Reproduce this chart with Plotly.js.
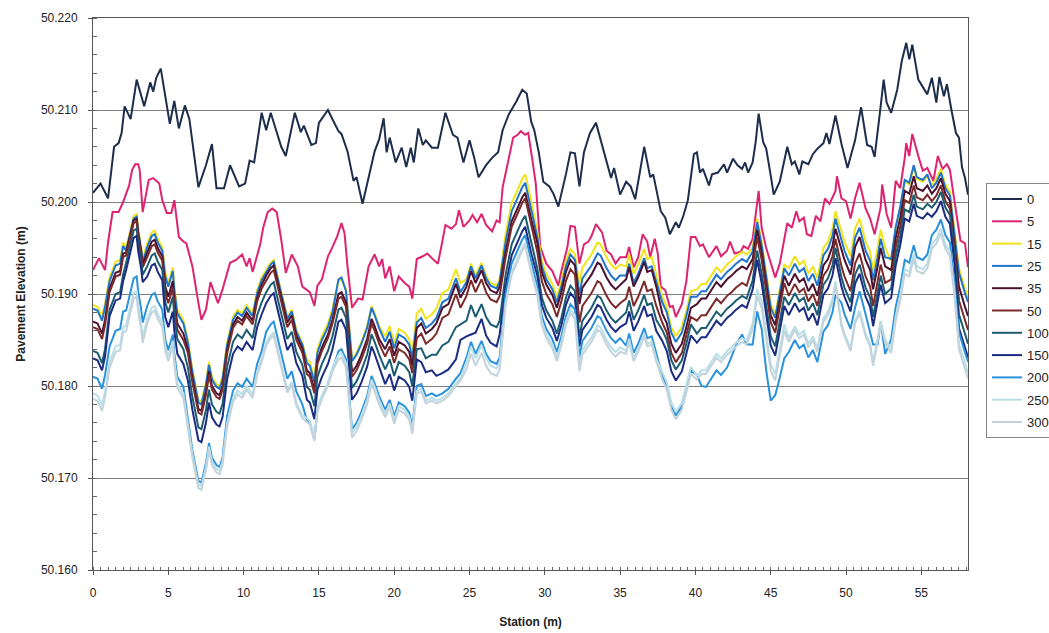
<!DOCTYPE html>
<html>
<head>
<meta charset="utf-8">
<script src="https://cdn.plot.ly/plotly-3.0.1.min.js"></script>
<style>
html,body{margin:0;padding:0;background:#fff;}
#chart{width:1049px;height:633px;}
</style>
</head>
<body>
<div id="chart"></div>
<script>
// Series "0"
const station0 = [0.0,0.5,1.0,1.4,1.7,1.9,2.1,2.5,2.9,3.4,3.8,4.0,4.2,4.5,4.8,5.1,5.4,5.7,6.1,6.4,7.0,7.5,7.9,8.2,8.7,9.1,9.7,10.1,10.4,10.7,11.2,11.5,11.8,12.1,12.5,12.8,13.4,13.8,14.0,14.5,14.8,15.0,15.6,15.9,16.3,16.5,16.9,17.3,17.5,17.9,18.3,18.7,19.0,19.3,19.5,19.7,20.1,20.5,20.8,21.1,21.3,21.6,21.9,22.1,22.5,22.9,23.4,23.9,24.2,24.6,25.0,25.3,25.6,26.1,26.5,26.9,27.2,27.6,28.1,28.5,28.8,29.1,29.3,29.6,29.9,30.3,30.6,30.9,31.4,31.7,32.0,32.3,32.6,33.0,33.4,33.8,34.4,34.6,35.0,35.4,35.7,36.0,36.6,37.0,37.2,37.7,38.0,38.3,38.7,38.9,39.2,39.5,39.9,40.1,40.3,40.5,40.9,41.1,41.5,41.9,42.1,42.5,42.8,43.1,43.3,43.5,43.8,44.0,44.2,44.5,44.7,45.0,45.2,45.6,46.1,46.4,46.6,46.9,47.1,47.5,47.8,48.1,48.5,48.7,48.9,49.3,49.7,50.1,50.6,51.0,51.4,51.7,51.9,52.3,52.5,52.7,53.0,53.4,53.7,54.0,54.2,54.4,54.8,55.4,55.7,56.0,56.2,56.5,56.7,57.0,57.3,57.5,57.7,57.9,58.1];
const elev0 = [50.2010,50.2020,50.2004,50.2060,50.2064,50.2075,50.2104,50.2090,50.2133,50.2104,50.2130,50.2120,50.2135,50.2145,50.2115,50.2085,50.2110,50.2080,50.2105,50.2090,50.2016,50.2040,50.2063,50.2015,50.2015,50.2040,50.2017,50.2020,50.2045,50.2043,50.2097,50.2078,50.2097,50.2080,50.2060,50.2050,50.2097,50.2076,50.2083,50.2062,50.2064,50.2086,50.2100,50.2090,50.2077,50.2074,50.2055,50.2023,50.2027,50.1998,50.2025,50.2055,50.2068,50.2091,50.2054,50.2070,50.2043,50.2059,50.2038,50.2059,50.2043,50.2080,50.2062,50.2067,50.2059,50.2059,50.2097,50.2073,50.2070,50.2043,50.2067,50.2049,50.2027,50.2040,50.2048,50.2054,50.2078,50.2095,50.2109,50.2122,50.2118,50.2087,50.2078,50.2054,50.2022,50.2017,50.2008,50.1995,50.2030,50.2054,50.2053,50.2017,50.2054,50.2075,50.2086,50.2062,50.2026,50.2037,50.2008,50.2022,50.2017,50.2003,50.2060,50.2027,50.2030,50.1990,50.1983,50.1965,50.1978,50.1972,50.1985,50.2002,50.2052,50.2054,50.2032,50.2036,50.2018,50.2030,50.2032,50.2041,50.2032,50.2047,50.2040,50.2036,50.2043,50.2032,50.2043,50.2065,50.2096,50.2065,50.2058,50.2029,50.2008,50.2022,50.2060,50.2041,50.2044,50.2030,50.2044,50.2041,50.2052,50.2058,50.2064,50.2075,50.2063,50.2094,50.2063,50.2037,50.2067,50.2103,50.2062,50.2060,50.2049,50.2104,50.2133,50.2108,50.2097,50.2122,50.2153,50.2173,50.2155,50.2171,50.2133,50.2117,50.2135,50.2108,50.2136,50.2115,50.2128,50.2100,50.2075,50.2070,50.2038,50.2026,50.2008];

// Series "5"
const station5 = [0.0,0.4,0.8,1.0,1.3,1.7,2.0,2.2,2.4,2.6,2.8,3.0,3.1,3.3,3.7,4.0,4.4,4.6,4.9,5.2,5.4,5.7,6.0,6.2,6.6,7.0,7.2,7.5,7.8,8.1,8.3,8.6,9.1,9.5,9.9,10.2,10.4,10.6,11.1,11.3,11.6,11.9,12.2,12.5,12.8,13.2,13.6,13.9,14.4,14.7,14.9,15.2,15.6,15.9,16.2,16.5,16.7,16.9,17.2,17.6,17.9,18.3,18.7,19.0,19.2,19.4,19.7,20.0,20.3,20.7,21.0,21.2,21.5,21.9,22.2,22.5,22.9,23.1,23.4,23.8,24.1,24.3,24.6,25.0,25.2,25.5,25.8,26.1,26.5,26.8,27.0,27.2,27.5,27.9,28.2,28.4,28.7,28.9,29.2,29.4,29.7,30.1,30.5,30.9,31.1,31.5,31.7,32.0,32.3,32.6,32.9,33.1,33.4,33.8,34.1,34.4,34.7,35.0,35.4,35.6,35.9,36.2,36.5,36.8,37.0,37.3,37.5,37.7,38.0,38.3,38.5,38.7,39.1,39.4,39.7,40.0,40.3,40.5,40.9,41.2,41.4,41.7,42.1,42.3,42.6,43.0,43.2,43.5,43.8,44.2,44.4,44.7,45.0,45.3,45.6,45.9,46.1,46.4,46.7,46.9,47.2,47.4,47.7,48.0,48.3,48.6,48.9,49.3,49.4,49.7,50.0,50.3,50.6,50.9,51.3,51.6,51.9,52.3,52.4,52.7,53.0,53.3,53.6,53.9,54.0,54.2,54.4,54.8,55.1,55.4,55.8,56.1,56.4,56.7,56.9,57.1,57.3,57.6,57.9,58.1];
const elev5 = [50.1926,50.1939,50.1926,50.1956,50.1989,50.1989,50.2000,50.2008,50.2018,50.2035,50.2041,50.2041,50.2035,50.1989,50.2024,50.2026,50.2020,50.2002,50.1988,50.1988,50.2002,50.1962,50.1957,50.1955,50.1930,50.1890,50.1872,50.1883,50.1913,50.1899,50.1890,50.1905,50.1934,50.1937,50.1943,50.1930,50.1939,50.1924,50.1954,50.1972,50.1989,50.1993,50.1989,50.1959,50.1923,50.1943,50.1930,50.1908,50.1902,50.1887,50.1909,50.1916,50.1941,50.1951,50.1962,50.1977,50.1966,50.1930,50.1885,50.1895,50.1894,50.1930,50.1943,50.1930,50.1938,50.1917,50.1930,50.1903,50.1919,50.1912,50.1908,50.1895,50.1938,50.1941,50.1944,50.1939,50.1933,50.1949,50.1975,50.1971,50.1976,50.1991,50.1973,50.1980,50.1986,50.1978,50.1987,50.1975,50.1968,50.1980,50.1978,50.2016,50.2040,50.2070,50.2073,50.2077,50.2073,50.2075,50.2043,50.2020,50.1951,50.1933,50.1925,50.1909,50.1925,50.1951,50.1974,50.1973,50.1933,50.1954,50.1957,50.1963,50.1976,50.1967,50.1947,50.1943,50.1933,50.1940,50.1940,50.1951,50.1929,50.1940,50.1965,50.1957,50.1940,50.1960,50.1944,50.1908,50.1904,50.1886,50.1887,50.1875,50.1889,50.1914,50.1962,50.1962,50.1952,50.1954,50.1940,50.1947,50.1952,50.1941,50.1947,50.1957,50.1944,50.1946,50.1952,50.1949,50.1960,50.2012,50.1972,50.1950,50.1933,50.1918,50.1933,50.1961,50.1977,50.1972,50.1990,50.1979,50.1983,50.1965,50.1963,50.1985,50.1979,50.2004,50.1998,50.2012,50.2028,50.2004,50.2001,50.1982,50.2004,50.2021,50.1993,50.1982,50.1965,50.1994,50.2019,50.1987,50.1972,50.2023,50.2015,50.2048,50.2064,50.2050,50.2074,50.2050,50.2034,50.2037,50.2023,50.2050,50.2036,50.2041,50.2035,50.2012,50.1990,50.1958,50.1955,50.1929];

// Series 15 ... 300 share one station list
const station = [0,0.3,0.6,0.8,1.1,1.5,1.8,2.0,2.2,2.5,2.7,2.9,3.0,3.2,3.3,3.6,3.9,4.1,4.3,4.6,4.8,5.0,5.3,5.4,5.6,6.0,6.3,6.6,7.0,7.2,7.5,7.7,7.9,8.2,8.4,8.6,8.9,9.3,9.6,9.9,10.2,10.6,10.9,11.2,11.5,11.8,12.0,12.2,12.6,12.9,13.2,13.5,13.9,14.2,14.4,14.7,14.9,15.2,15.6,15.9,16.3,16.5,16.8,17.0,17.2,17.5,17.8,18.2,18.5,18.7,19.0,19.4,19.7,20.0,20.3,20.7,21.0,21.2,21.5,21.8,22.1,22.5,22.8,23.2,23.6,24.1,24.4,24.8,25.1,25.4,25.8,26.1,26.4,26.8,27.0,27.4,27.8,28.1,28.5,28.7,29.1,29.5,29.8,30.1,30.5,30.8,31.1,31.4,31.7,32.0,32.3,32.5,32.8,33.1,33.5,33.7,34.1,34.4,34.7,35.0,35.4,35.6,35.9,36.2,36.6,36.8,37.1,37.4,37.8,38.1,38.4,38.7,39.1,39.4,39.7,40.1,40.4,40.7,41.1,41.4,41.7,42.1,42.4,42.7,43.1,43.4,43.8,44.1,44.4,44.7,45.0,45.3,45.6,45.9,46.2,46.6,46.9,47.2,47.5,47.8,48.1,48.5,48.8,49.1,49.3,49.7,49.9,50.3,50.6,50.9,51.3,51.6,51.8,52.1,52.3,52.6,53.0,53.3,53.6,53.9,54.2,54.5,54.7,55.1,55.4,55.7,56.0,56.3,56.6,56.9,57.2,57.5,57.9,58.1];

const elev15 = [50.1888,50.1886,50.1875,50.1890,
50.1918,50.1935,50.1937,50.1956,
50.1950,50.1971,50.1985,50.1987,50.1971,50.1951,50.1937,
50.1955,50.1967,50.1969,50.1960,50.1951,
50.1923,50.1912,50.1929,50.1908,50.1883,50.1872,
50.1850,50.1818,50.1785,50.1783,50.1804,50.1826,50.1810,50.1802,50.1800,50.1810,
50.1847,50.1875,50.1883,50.1879,50.1888,50.1879,50.1904,50.1918,
50.1926,50.1934,50.1937,50.1923,50.1897,50.1875,50.1883,50.1861,50.1847,
50.1829,50.1826,50.1808,50.1840,50.1854,50.1868,50.1884,
50.1914,50.1916,50.1905,50.1868,50.1829,50.1836,50.1847,50.1865,50.1887,50.1879,50.1865,
50.1854,50.1865,50.1847,50.1862,50.1858,50.1851,50.1836,
50.1879,50.1884,50.1873,50.1878,50.1884,50.1901,50.1905,50.1927,50.1912,
50.1916,50.1933,50.1920,50.1934,50.1920,50.1912,50.1909,50.1916,
50.1966,50.1999,50.2010,50.2025,50.2030,50.2001,
50.1968,50.1936,50.1922,50.1911,50.1897,50.1914,50.1936,50.1949,50.1943,
50.1911,50.1929,50.1936,50.1943,50.1956,50.1954,50.1940,50.1932,50.1927,50.1932,
50.1930,50.1943,50.1922,50.1932,50.1949,50.1938,50.1940,50.1922,
50.1897,50.1886,50.1864,50.1854,50.1864,50.1882,50.1903,
50.1905,50.1911,50.1911,50.1922,50.1929,50.1924,50.1932,50.1936,50.1941,50.1946,50.1943,
50.1950,50.1982,50.1957,50.1922,50.1889,50.1878,50.1903,50.1932,
50.1928,50.1941,50.1932,50.1936,50.1922,50.1930,50.1917,50.1950,50.1957,50.1971,50.1990,
50.1968,50.1957,50.1941,50.1971,50.1982,50.1957,50.1946,50.1925,50.1950,50.1970,50.1950,
50.1936,50.1971,50.1993,50.2022,50.2019,50.2038,50.2025,50.2022,50.2028,
50.2019,50.2025,50.2036,50.2019,50.2011,50.1968,
50.1928,50.1906,50.1896];

const elev25 = [50.1884,50.1882,50.1871,50.1886,
50.1914,50.1931,50.1933,50.1952,
50.1947,50.1968,50.1982,50.1984,50.1968,50.1948,50.1934,
50.1951,50.1963,50.1965,50.1956,50.1947,
50.1919,50.1908,50.1925,50.1904,50.1879,50.1868,
50.1847,50.1815,50.1782,50.1780,50.1801,50.1823,50.1807,50.1799,50.1797,50.1807,
50.1844,50.1872,50.1880,50.1876,50.1885,50.1876,50.1901,50.1915,
50.1924,50.1932,50.1935,50.1921,50.1895,50.1873,50.1881,50.1859,50.1845,
50.1825,50.1822,50.1804,50.1836,50.1850,50.1864,50.1880,
50.1916,50.1918,50.1903,50.1866,50.1827,50.1834,50.1845,50.1863,50.1885,50.1877,50.1863,
50.1848,50.1859,50.1841,50.1856,50.1852,50.1845,50.1830,
50.1869,50.1874,50.1863,50.1868,50.1874,50.1891,50.1895,50.1917,50.1902,
50.1913,50.1930,50.1917,50.1931,50.1917,50.1909,50.1906,50.1913,
50.1957,50.1990,50.2001,50.2016,50.2021,50.1992,
50.1962,50.1930,50.1916,50.1905,50.1891,50.1908,50.1930,50.1943,50.1937,
50.1899,50.1917,50.1924,50.1931,50.1944,50.1942,50.1928,50.1920,50.1915,50.1920,
50.1920,50.1933,50.1912,50.1922,50.1939,50.1928,50.1930,50.1912,
50.1891,50.1880,50.1858,50.1848,50.1858,50.1876,50.1897,
50.1897,50.1903,50.1903,50.1914,50.1921,50.1916,50.1924,50.1928,50.1933,50.1938,50.1935,
50.1946,50.1978,50.1953,50.1918,50.1885,50.1874,50.1899,50.1928,
50.1920,50.1933,50.1924,50.1928,50.1914,50.1922,50.1909,50.1942,50.1949,50.1963,50.1982,
50.1958,50.1947,50.1931,50.1961,50.1972,50.1947,50.1936,50.1915,50.1940,50.1960,50.1940,
50.1938,50.1973,50.1995,50.2024,50.2021,50.2040,50.2027,50.2024,50.2030,
50.2015,50.2021,50.2032,50.2015,50.2007,50.1964,
50.1923,50.1901,50.1891];

const elev35 = [50.1870,50.1868,50.1857,50.1872,
50.1906,50.1923,50.1925,50.1944,
50.1945,50.1966,50.1980,50.1982,50.1966,50.1946,50.1932,
50.1945,50.1957,50.1959,50.1950,50.1941,
50.1908,50.1897,50.1914,50.1893,50.1868,50.1857,
50.1840,50.1808,50.1775,50.1773,50.1794,50.1816,50.1800,50.1792,50.1790,50.1800,
50.1839,50.1867,50.1875,50.1871,50.1880,50.1871,50.1896,50.1910,
50.1920,50.1928,50.1931,50.1917,50.1891,50.1869,50.1877,50.1855,50.1841,
50.1817,50.1814,50.1796,50.1828,50.1842,50.1856,50.1872,
50.1900,50.1902,50.1891,50.1854,50.1815,50.1822,50.1833,50.1851,50.1873,50.1865,50.1851,
50.1840,50.1851,50.1833,50.1848,50.1844,50.1837,50.1822,
50.1863,50.1868,50.1857,50.1862,50.1868,50.1885,50.1889,50.1911,50.1896,
50.1908,50.1925,50.1912,50.1926,50.1912,50.1904,50.1901,50.1908,
50.1946,50.1979,50.1990,50.2005,50.2010,50.1981,
50.1956,50.1924,50.1910,50.1899,50.1885,50.1902,50.1924,50.1937,50.1931,
50.1889,50.1907,50.1914,50.1921,50.1934,50.1932,50.1918,50.1910,50.1905,50.1910,
50.1916,50.1929,50.1908,50.1918,50.1935,50.1924,50.1926,50.1908,
50.1879,50.1868,50.1846,50.1836,50.1846,50.1864,50.1885,
50.1889,50.1895,50.1895,50.1906,50.1913,50.1908,50.1916,50.1920,50.1925,50.1930,50.1927,
50.1938,50.1970,50.1945,50.1910,50.1877,50.1866,50.1891,50.1920,
50.1909,50.1922,50.1913,50.1917,50.1903,50.1911,50.1898,50.1931,50.1938,50.1952,50.1971,
50.1948,50.1937,50.1921,50.1951,50.1962,50.1937,50.1926,50.1905,50.1930,50.1950,50.1930,
50.1926,50.1961,50.1983,50.2012,50.2009,50.2028,50.2015,50.2012,50.2018,
50.2009,50.2015,50.2026,50.2009,50.2001,50.1958,
50.1908,50.1886,50.1876];

const elev50 = [50.1864,50.1862,50.1851,50.1866,
50.1902,50.1919,50.1921,50.1940,
50.1942,50.1963,50.1977,50.1979,50.1963,50.1943,50.1929,
50.1940,50.1952,50.1954,50.1945,50.1936,
50.1901,50.1890,50.1907,50.1886,50.1861,50.1850,
50.1836,50.1804,50.1771,50.1769,50.1790,50.1812,50.1796,50.1788,50.1786,50.1796,
50.1835,50.1863,50.1871,50.1867,50.1876,50.1867,50.1892,50.1906,
50.1915,50.1923,50.1926,50.1912,50.1886,50.1864,50.1872,50.1850,50.1836,
50.1813,50.1810,50.1792,50.1824,50.1838,50.1852,50.1868,
50.1895,50.1897,50.1886,50.1849,50.1810,50.1817,50.1828,50.1846,50.1868,50.1860,50.1846,
50.1832,50.1843,50.1825,50.1840,50.1836,50.1829,50.1814,
50.1852,50.1857,50.1846,50.1851,50.1857,50.1874,50.1878,50.1900,50.1885,
50.1898,50.1915,50.1902,50.1916,50.1902,50.1894,50.1891,50.1898,
50.1940,50.1973,50.1984,50.1999,50.2004,50.1975,
50.1946,50.1914,50.1900,50.1889,50.1875,50.1892,50.1914,50.1927,50.1921,
50.1869,50.1887,50.1894,50.1901,50.1914,50.1912,50.1898,50.1890,50.1885,50.1890,
50.1895,50.1908,50.1887,50.1897,50.1914,50.1903,50.1905,50.1887,
50.1869,50.1858,50.1836,50.1826,50.1836,50.1854,50.1875,
50.1871,50.1877,50.1877,50.1888,50.1895,50.1890,50.1898,50.1902,50.1907,50.1912,50.1909,
50.1930,50.1962,50.1937,50.1902,50.1869,50.1858,50.1883,50.1912,
50.1898,50.1911,50.1902,50.1906,50.1892,50.1900,50.1887,50.1920,50.1927,50.1941,50.1960,
50.1930,50.1919,50.1903,50.1933,50.1944,50.1919,50.1908,50.1887,50.1912,50.1932,50.1912,
50.1916,50.1951,50.1973,50.2002,50.1999,50.2018,50.2005,50.2002,50.2008,
50.2001,50.2007,50.2018,50.2001,50.1993,50.1950,
50.1893,50.1871,50.1861];

const elev100 = [50.1838,50.1836,50.1825,50.1840,
50.1883,50.1900,50.1902,50.1921,
50.1934,50.1955,50.1969,50.1971,50.1955,50.1935,50.1921,
50.1930,50.1942,50.1944,50.1935,50.1926,
50.1891,50.1880,50.1897,50.1876,50.1851,50.1840,
50.1820,50.1788,50.1755,50.1753,50.1774,50.1796,50.1780,50.1772,50.1770,50.1780,
50.1820,50.1848,50.1856,50.1852,50.1861,50.1852,50.1877,50.1891,
50.1902,50.1910,50.1913,50.1899,50.1873,50.1851,50.1859,50.1837,50.1823,
50.1799,50.1796,50.1778,50.1810,50.1824,50.1838,50.1854,
50.1883,50.1885,50.1874,50.1837,50.1798,50.1805,50.1816,50.1834,50.1856,50.1848,50.1834,
50.1818,50.1829,50.1811,50.1826,50.1822,50.1815,50.1800,
50.1840,50.1841,50.1830,50.1834,50.1834,50.1844,50.1848,50.1864,50.1867,
50.1871,50.1888,50.1875,50.1889,50.1875,50.1867,50.1864,50.1871,
50.1921,50.1954,50.1965,50.1980,50.1985,50.1956,
50.1928,50.1896,50.1882,50.1871,50.1857,50.1874,50.1896,50.1909,50.1903,
50.1853,50.1871,50.1878,50.1885,50.1898,50.1896,50.1882,50.1874,50.1869,50.1874,
50.1880,50.1893,50.1872,50.1882,50.1899,50.1888,50.1890,50.1872,
50.1861,50.1850,50.1828,50.1818,50.1828,50.1846,50.1867,
50.1857,50.1863,50.1863,50.1874,50.1881,50.1876,50.1884,50.1888,50.1893,50.1898,50.1895,
50.1915,50.1947,50.1922,50.1887,50.1854,50.1843,50.1868,50.1897,
50.1888,50.1901,50.1892,50.1896,50.1882,50.1890,50.1877,50.1910,50.1917,50.1931,50.1950,
50.1918,50.1907,50.1891,50.1921,50.1932,50.1907,50.1896,50.1875,50.1900,50.1920,50.1900,
50.1906,50.1941,50.1963,50.1992,50.1989,50.2008,50.1995,50.1992,50.1998,
50.1994,50.2000,50.2011,50.1994,50.1986,50.1943,
50.1878,50.1856,50.1846];

const elev150 = [50.1830,50.1828,50.1817,50.1832,
50.1876,50.1893,50.1895,50.1914,
50.1926,50.1947,50.1961,50.1963,50.1947,50.1927,50.1913,
50.1919,50.1931,50.1933,50.1924,50.1915,
50.1875,50.1864,50.1881,50.1860,50.1835,50.1824,
50.1806,50.1774,50.1741,50.1739,50.1760,50.1782,50.1766,50.1758,50.1756,50.1766,
50.1807,50.1835,50.1843,50.1839,50.1848,50.1839,50.1864,50.1878,
50.1890,50.1898,50.1901,50.1887,50.1861,50.1839,50.1847,50.1825,50.1811,
50.1785,50.1782,50.1764,50.1796,50.1810,50.1824,50.1840,
50.1870,50.1872,50.1861,50.1824,50.1785,50.1792,50.1803,50.1821,50.1843,50.1835,50.1821,
50.1802,50.1813,50.1795,50.1810,50.1806,50.1799,50.1784,
50.1829,50.1826,50.1815,50.1817,50.1811,50.1814,50.1818,50.1829,50.1850,
50.1854,50.1856,50.1858,50.1873,50.1855,50.1847,50.1843,50.1856,
50.1909,50.1942,50.1953,50.1968,50.1973,50.1944,
50.1920,50.1888,50.1874,50.1863,50.1849,50.1866,50.1888,50.1901,50.1895,
50.1843,50.1861,50.1868,50.1875,50.1888,50.1886,50.1872,50.1864,50.1859,50.1864,
50.1868,50.1881,50.1860,50.1870,50.1887,50.1876,50.1878,50.1860,
50.1849,50.1838,50.1816,50.1806,50.1816,50.1834,50.1855,
50.1847,50.1853,50.1853,50.1864,50.1871,50.1866,50.1874,50.1878,50.1883,50.1888,50.1885,
50.1905,50.1937,50.1912,50.1877,50.1844,50.1833,50.1858,50.1887,
50.1877,50.1890,50.1881,50.1885,50.1871,50.1879,50.1866,50.1899,50.1906,50.1920,50.1939,
50.1908,50.1897,50.1881,50.1911,50.1922,50.1897,50.1886,50.1865,50.1890,50.1910,50.1890,
50.1896,50.1931,50.1953,50.1982,50.1979,50.1998,50.1985,50.1982,50.1988,
50.1984,50.1990,50.2001,50.1984,50.1976,50.1933,
50.1863,50.1841,50.1831];

const elev200 = [50.1810,50.1808,50.1797,50.1812,
50.1843,50.1860,50.1862,50.1881,
50.1882,50.1903,50.1917,50.1919,50.1903,50.1883,50.1869,
50.1887,50.1899,50.1901,50.1892,50.1883,
50.1850,50.1839,50.1856,50.1835,50.1810,50.1799,
50.1762,50.1730,50.1697,50.1695,50.1716,50.1738,50.1722,50.1714,50.1712,50.1722,
50.1767,50.1795,50.1803,50.1799,50.1808,50.1799,50.1824,50.1838,
50.1859,50.1867,50.1870,50.1856,50.1830,50.1808,50.1816,50.1794,50.1780,
50.1763,50.1760,50.1742,50.1774,50.1788,50.1802,50.1818,
50.1838,50.1840,50.1829,50.1792,50.1753,50.1760,50.1771,50.1789,50.1811,50.1803,50.1789,
50.1774,50.1785,50.1767,50.1782,50.1778,50.1771,50.1756,
50.1800,50.1802,50.1789,50.1792,50.1789,50.1792,50.1797,50.1808,50.1814,
50.1831,50.1848,50.1835,50.1849,50.1835,50.1827,50.1824,50.1831,
50.1900,50.1933,50.1944,50.1959,50.1964,50.1935,
50.1908,50.1876,50.1862,50.1851,50.1837,50.1854,50.1876,50.1889,50.1883,
50.1831,50.1849,50.1856,50.1863,50.1876,50.1874,50.1860,50.1852,50.1847,50.1852,
50.1844,50.1857,50.1836,50.1846,50.1863,50.1852,50.1854,50.1836,
50.1811,50.1800,50.1778,50.1768,50.1778,50.1796,50.1817,
50.1812,50.1800,50.1799,50.1810,50.1817,50.1812,50.1820,50.1832,50.1845,50.1856,50.1845,
50.1845,50.1881,50.1862,50.1817,50.1784,50.1790,50.1809,50.1830,
50.1837,50.1850,50.1841,50.1845,50.1831,50.1839,50.1826,50.1859,50.1866,50.1880,50.1899,
50.1890,50.1878,50.1862,50.1885,50.1903,50.1878,50.1860,50.1845,50.1845,50.1870,50.1835,
50.1851,50.1886,50.1908,50.1937,50.1934,50.1953,50.1940,50.1937,50.1943,
50.1964,50.1970,50.1981,50.1964,50.1956,50.1913,
50.1858,50.1836,50.1826];

const elev250 = [50.1792,50.1790,50.1779,50.1794,
50.1826,50.1843,50.1845,50.1864,
50.1866,50.1887,50.1901,50.1903,50.1887,50.1867,50.1853,
50.1873,50.1885,50.1887,50.1878,50.1869,
50.1843,50.1832,50.1849,50.1828,50.1803,50.1792,
50.1758,50.1726,50.1693,50.1691,50.1712,50.1734,50.1718,50.1710,50.1708,50.1718,
50.1759,50.1787,50.1795,50.1791,50.1800,50.1791,50.1816,50.1830,
50.1847,50.1855,50.1858,50.1844,50.1818,50.1796,50.1804,50.1782,50.1768,
50.1765,50.1762,50.1744,50.1776,50.1790,50.1804,50.1820,
50.1834,50.1836,50.1825,50.1788,50.1749,50.1756,50.1767,50.1785,50.1807,50.1799,50.1785,
50.1770,50.1781,50.1763,50.1778,50.1774,50.1767,50.1752,
50.1795,50.1797,50.1784,50.1787,50.1784,50.1787,50.1792,50.1803,50.1809,
50.1826,50.1843,50.1830,50.1844,50.1830,50.1822,50.1819,50.1826,
50.1891,50.1924,50.1935,50.1950,50.1955,50.1926,
50.1902,50.1870,50.1856,50.1845,50.1831,50.1848,50.1870,50.1883,50.1877,
50.1821,50.1839,50.1846,50.1853,50.1866,50.1864,50.1850,50.1842,50.1837,50.1842,
50.1838,50.1851,50.1830,50.1840,50.1857,50.1846,50.1848,50.1830,
50.1815,50.1804,50.1782,50.1772,50.1782,50.1800,50.1821,
50.1811,50.1817,50.1817,50.1828,50.1835,50.1830,50.1838,50.1842,50.1847,50.1852,50.1849,
50.1868,50.1905,50.1892,50.1857,50.1824,50.1813,50.1838,50.1867,
50.1852,50.1865,50.1856,50.1860,50.1846,50.1854,50.1841,50.1874,50.1881,50.1895,50.1914,
50.1868,50.1857,50.1841,50.1871,50.1882,50.1857,50.1846,50.1825,50.1850,50.1870,50.1850,
50.1841,50.1876,50.1898,50.1927,50.1924,50.1943,50.1930,50.1927,50.1933,
50.1954,50.1960,50.1971,50.1954,50.1946,50.1903,
50.1846,50.1824,50.1814];

const elev300 = [50.1786,50.1784,50.1773,50.1788,
50.1820,50.1837,50.1839,50.1858,
50.1860,50.1881,50.1895,50.1897,50.1881,50.1861,50.1847,
50.1868,50.1880,50.1882,50.1873,50.1864,
50.1838,50.1827,50.1844,50.1823,50.1798,50.1787,
50.1754,50.1722,50.1689,50.1687,50.1708,50.1730,50.1714,50.1706,50.1704,50.1714,
50.1755,50.1783,50.1791,50.1787,50.1796,50.1787,50.1812,50.1826,
50.1844,50.1852,50.1855,50.1841,50.1815,50.1793,50.1801,50.1779,50.1765,
50.1761,50.1758,50.1740,50.1772,50.1786,50.1800,50.1816,
50.1829,50.1831,50.1820,50.1783,50.1744,50.1751,50.1762,50.1780,50.1802,50.1794,50.1780,
50.1766,50.1777,50.1759,50.1774,50.1770,50.1763,50.1748,
50.1792,50.1794,50.1781,50.1784,50.1781,50.1784,50.1789,50.1800,50.1806,
50.1818,50.1835,50.1822,50.1836,50.1822,50.1814,50.1811,50.1818,
50.1888,50.1921,50.1932,50.1947,50.1952,50.1923,
50.1898,50.1866,50.1852,50.1841,50.1827,50.1844,50.1866,50.1879,50.1873,
50.1816,50.1834,50.1841,50.1848,50.1861,50.1859,50.1845,50.1837,50.1832,50.1837,
50.1835,50.1848,50.1827,50.1837,50.1854,50.1843,50.1845,50.1827,
50.1807,50.1796,50.1774,50.1764,50.1774,50.1792,50.1813,
50.1807,50.1813,50.1813,50.1824,50.1831,50.1826,50.1834,50.1838,50.1843,50.1848,50.1845,
50.1862,50.1898,50.1885,50.1850,50.1817,50.1806,50.1831,50.1860,
50.1848,50.1861,50.1852,50.1856,50.1842,50.1850,50.1837,50.1870,50.1877,50.1891,50.1910,
50.1865,50.1854,50.1838,50.1868,50.1879,50.1854,50.1843,50.1822,50.1847,50.1867,50.1847,
50.1836,50.1871,50.1893,50.1922,50.1919,50.1938,50.1925,50.1922,50.1928,
50.1949,50.1955,50.1966,50.1949,50.1941,50.1898,
50.1840,50.1818,50.1808];

const seriesNames = ['0','5','15','25','35','50','100','150','200','250','300'];
const seriesColors = ['#1d2d4b','#de2370','#f2e41c','#1f74cc','#4b1230','#7c2b2b','#1c5d72','#1b2c82','#2a92dc','#b9dfe9','#c3d3dc'];
const seriesX = [station0, station5, station, station, station, station, station, station, station, station, station];
const seriesY = [elev0, elev5, elev15, elev25, elev35, elev50, elev100, elev150, elev200, elev250, elev300];

const FONT = 'Liberation Sans, Arial, Helvetica, sans-serif';
const traces = seriesNames.map((n, i) => ({
  type: 'scatter', mode: 'lines', name: n, legendgroup: 'g' + i,
  x: seriesX[i], y: seriesY[i],
  line: {color: seriesColors[i], width: 2}
}));

const layout = {
  width: 1049, height: 633,
  paper_bgcolor: '#ffffff', plot_bgcolor: '#ffffff',
  margin: {l: 93, r: 81, t: 18, b: 63, autoexpand: false},
  font: {family: FONT, size: 12, color: '#222'},
  showlegend: true,
  legend: {
    x: 1.0206, y: 0.701, xanchor: 'left', yanchor: 'top',
    bgcolor: '#ffffff', bordercolor: '#888', borderwidth: 1,
    font: {family: FONT, size: 13, color: '#222'},
    itemwidth: 30, tracegroupgap: 2.4
  },
  xaxis: {
    range: [0, 58.1], tick0: 0, dtick: 5,
    showgrid: false, zeroline: false,
    showline: true, linecolor: '#555', linewidth: 1, mirror: true,
    ticks: 'outside', ticklen: 4, tickcolor: '#555',
    minor: {dtick: 0.5, ticks: 'inside', ticklen: 3, tickcolor: '#666', showgrid: false},
    tickfont: {family: FONT, size: 12, color: '#222'},
    ticklabelstandoff: 8,
    title: {text: '<b>Station (m)</b>', font: {family: FONT, size: 12, color: '#222'}, standoff: 18}
  },
  yaxis: {
    range: [50.16, 50.22], tick0: 50.16, dtick: 0.01, tickformat: '.3f',
    showgrid: true, gridcolor: '#808080', gridwidth: 1, zeroline: false,
    showline: true, linecolor: '#555', linewidth: 1, mirror: true,
    ticks: 'outside', ticklen: 4, tickcolor: '#555',
    minor: {dtick: 0.002, ticks: 'inside', ticklen: 4, tickcolor: '#666', showgrid: false},
    tickfont: {family: FONT, size: 12, color: '#222'},
    ticklabelstandoff: 8,
    title: {text: '<b>Pavement Elevation (m)</b>', font: {family: FONT, size: 12, color: '#222'}, standoff: 12}
  }
};

Plotly.newPlot('chart', traces, layout, {displayModeBar: false, staticPlot: true});
</script>
</body>
</html>
